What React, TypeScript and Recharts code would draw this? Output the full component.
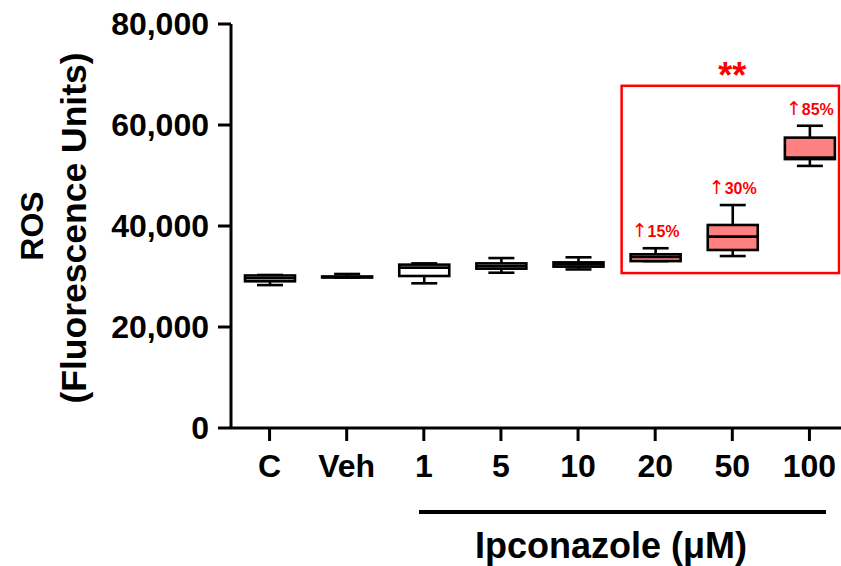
import { ComposedChart, Bar, XAxis, YAxis, ReferenceArea, LabelList } from 'recharts'

const categories = ['C', 'Veh', '1', '5', '10', '20', '50', '100']
const minValues = [28300, 29800, 28650, 30750, 31400, 33050, 34050, 51900]
const q1Values = [29050, 29800, 30100, 31550, 31950, 33050, 35250, 53250]
const medianValues = [29650, 29900, 31750, 32050, 32400, 33850, 37900, 53550]
const q3Values = [30200, 30000, 32350, 32600, 32800, 34400, 40200, 57500]
const maxValues = [30300, 30500, 32600, 33650, 33800, 35600, 44150, 59850]
const changeLabels = ['', '', '', '', '', '15%', '30%', '85%']
const highlightedGroups = ['20', '50', '100']
const yTicks = [0, 20000, 40000, 60000, 80000]
// significance frame spans these groups, from this value range
const frameGroups = ['20', '100']
const frameRange = [30680, 67760]

const FONT = '"Liberation Sans", Arial, sans-serif'
const RED = '#ff0000'
const PINK = '#ff8080'

const data = categories.map((name, i) => ({
  name,
  range: [minValues[i], maxValues[i]],
  min: minValues[i],
  q1: q1Values[i],
  median: medianValues[i],
  q3: q3Values[i],
  max: maxValues[i],
  change: changeLabels[i],
}))

function BoxShape(props: any) {
  const { x, y, width, height, payload } = props
  const { min, q1, median, q3, max, name } = payload
  const top = Math.min(y, y + height)
  const h = Math.abs(height)
  const span = max - min || 1
  const py = (v: number) => top + ((max - v) / span) * h
  const cx = x + width / 2
  const cap = width * 0.26
  const fill = highlightedGroups.includes(name) ? PINK : '#ffffff'

  return (
    <g stroke="#000" strokeWidth={2.6}>
      <line x1={cx} x2={cx} y1={py(max)} y2={py(q3)} />
      <line x1={cx} x2={cx} y1={py(q1)} y2={py(min)} />
      <line x1={cx - cap} x2={cx + cap} y1={py(max)} y2={py(max)} />
      <line x1={cx - cap} x2={cx + cap} y1={py(min)} y2={py(min)} />
      <rect x={x} y={py(q3)} width={width} height={Math.max(py(q1) - py(q3), 0.5)} fill={fill} />
      <line x1={x} x2={x + width} y1={py(median)} y2={py(median)} />
    </g>
  )
}

function renderChange(props: any) {
  const { x, y, width, value } = props
  if (!value) return null
  return (
    <text
      x={x + width / 2}
      y={y - 11}
      textAnchor="middle"
      fill={RED}
      fontSize={16}
      fontWeight={700}
      fontFamily={FONT}
    >
      <tspan fontFamily='"DejaVu Sans", sans-serif' fontWeight={400} fontSize={19}>
        ↑
      </tspan>
      {value}
    </text>
  )
}

function renderFrame(props: any) {
  const { x, y, width, height } = props
  return (
    <rect x={x + 5} y={y} width={width - 14} height={height} fill="none" stroke={RED} strokeWidth={2.5} />
  )
}

function renderStars(props: any) {
  const { viewBox } = props
  return (
    <text
      x={viewBox.x + viewBox.width / 2}
      y={viewBox.y + 2}
      textAnchor="middle"
      fill={RED}
      fontSize={36}
      fontWeight={700}
      fontFamily={FONT}
    >
      **
    </text>
  )
}

function renderYTitle() {
  return (
    <g fontFamily={FONT} fontWeight={700} fill="#000" textAnchor="middle">
      <text x={43} y={226} fontSize={32} transform="rotate(-90, 43, 226)">
        ROS
      </text>
      <text x={86} y={228} fontSize={35.5} transform="rotate(-90, 86, 228)">
        (Fluorescence Units)
      </text>
    </g>
  )
}

function renderXTitle() {
  return (
    <g>
      <line x1={419} x2={826} y1={512} y2={512} stroke="#000" strokeWidth={4} />
      <text
        x={611}
        y={558}
        textAnchor="middle"
        fontSize={36}
        fontWeight={700}
        fontFamily={FONT}
        fill="#000"
      >
        Ipconazole (μM)
      </text>
    </g>
  )
}

const tickStyle = { fill: '#000', fontSize: 32, fontWeight: 700, fontFamily: FONT }

export default function App() {
  return (
    <div style={{ position: 'absolute', left: 0, top: 0, width: 841, height: 566, overflow: 'hidden', background: '#fff' }}>
      <ComposedChart
        width={848}
        height={566}
        data={data}
        margin={{ top: 24, right: 0, bottom: 78, left: 0 }}
        barCategoryGap={0}
      >
        <XAxis
          dataKey="name"
          height={60}
          axisLine={{ stroke: '#000', strokeWidth: 3 }}
          tickLine={{ stroke: '#000', strokeWidth: 3 }}
          tickSize={13}
          tickMargin={13}
          tick={tickStyle}
          interval={0}
          label={renderXTitle}
        />
        <YAxis
          width={231}
          domain={[0, 80000]}
          ticks={yTicks}
          interval={0}
          tickFormatter={(v: number) => v.toLocaleString('en-US')}
          axisLine={{ stroke: '#000', strokeWidth: 3 }}
          tickLine={{ stroke: '#000', strokeWidth: 3 }}
          tickSize={13}
          tickMargin={9}
          tick={tickStyle}
          label={renderYTitle}
        />
        <ReferenceArea
          x1={frameGroups[0]}
          x2={frameGroups[1]}
          y1={frameRange[0]}
          y2={frameRange[1]}
          ifOverflow="visible"
          shape={renderFrame}
          label={renderStars}
        />
        <Bar dataKey="range" barSize={50} shape={<BoxShape />} isAnimationActive={false}>
          <LabelList dataKey="change" content={renderChange} />
        </Bar>
      </ComposedChart>
    </div>
  )
}
